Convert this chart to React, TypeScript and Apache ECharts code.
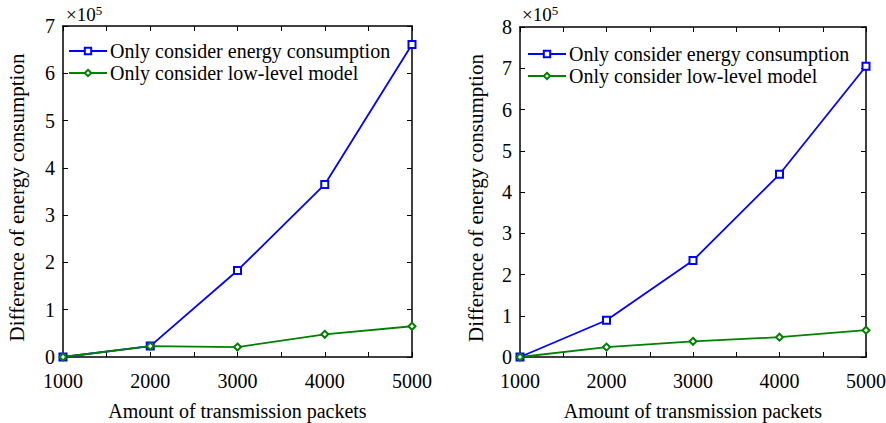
import React, { useEffect, useRef } from "react";
import * as echarts from "echarts";

const packets = [1000, 2000, 3000, 4000, 5000];
const leftEnergy = [0, 0.23, 1.83, 3.65, 6.61];
const leftLowLevel = [0, 0.23, 0.21, 0.48, 0.65];
const rightEnergy = [0, 0.89, 2.34, 4.43, 7.05];
const rightLowLevel = [0, 0.24, 0.38, 0.48, 0.65];
const seriesNames = ["Only consider energy consumption", "Only consider low-level model"];
const xTitle = "Amount of transmission packets";
const yTitle = "Difference of energy consumption";
const leftMax = 7;
const rightMax = 8;

const FONT = "Liberation Serif, Times New Roman, serif";
const BLUE = "#0000ff";
const GREEN = "#008000";

const pairs = (vals: number[]) => packets.map((p, i) => [p, vals[i]]);

export default function App() {
  const ref = useRef<HTMLDivElement>(null);
  useEffect(() => {
    if (!ref.current) return;
    const chart = echarts.init(ref.current, undefined, { renderer: "svg" });
    const grids = [
      { left: 63, top: 26, width: 349, height: 331, outerBoundsMode: "none", containLabel: false },
      { left: 520, top: 27, width: 346, height: 330, outerBoundsMode: "none", containLabel: false },
    ];
    const axLine = { show: true, lineStyle: { color: "#000", width: 1.5 } };
    const tick = { show: true, inside: true, length: 5, lineStyle: { color: "#000", width: 1 } };
    const minor = { show: true, splitNumber: 2, length: 5, lineStyle: { color: "#000", width: 1 } };
    const mkX = (g: number, pos: "bottom" | "top") => ({
      type: "value",
      gridIndex: g,
      position: pos,
      min: 1000,
      max: 5000,
      interval: 1000,
      axisLine: { ...axLine, onZero: false },
      axisTick: tick,
      minorTick: minor,
      splitLine: { show: false },
      axisLabel:
        pos === "bottom"
          ? { show: true, margin: 14, fontFamily: FONT, fontSize: 20, color: "#000", formatter: (v: number) => String(v) }
          : { show: false },
      name: pos === "bottom" ? xTitle : "",
      nameLocation: "middle",
      nameGap: 44,
      nameTextStyle: { fontFamily: FONT, fontSize: 20, lineHeight: 20, color: "#000" },
    });
    const mkY = (g: number, pos: "left" | "right", max: number, gap: number) => ({
      type: "value",
      gridIndex: g,
      position: pos,
      min: 0,
      max,
      interval: 1,
      axisLine: { ...axLine, onZero: false },
      axisTick: tick,
      splitLine: { show: false },
      axisLabel:
        pos === "left"
          ? { show: true, margin: 8, fontFamily: FONT, fontSize: 20, color: "#000" }
          : { show: false },
      name: pos === "left" ? yTitle : "",
      nameLocation: "middle",
      nameGap: gap,
      nameTextStyle: { fontFamily: FONT, fontSize: 21, color: "#000", padding: [0, 12, 0, 0] },
    });
    const mkSeries = (name: string, vals: number[], idx: number, color: string, symbol: string) => ({
      type: "line",
      name,
      xAxisIndex: idx,
      yAxisIndex: idx,
      data: pairs(vals),
      symbol,
      symbolSize: 7,
      lineStyle: { color, width: 1.8 },
      itemStyle: { color, borderWidth: 1.5 },
    });
    const legendBase = {
      orient: "vertical",
      itemWidth: 38,
      itemHeight: 8,
      itemGap: 2,
      padding: 0,
      textStyle: { fontFamily: FONT, fontSize: 20, color: "#000", padding: [0, 0, 0, -2] },
      data: seriesNames,
      selectedMode: false,
    };
    const mult = (left: number) => ({
      type: "text",
      left,
      top: 4,
      style: {
        text: "×10{s|5}",
        fontFamily: FONT,
        fontSize: 19,
        fill: "#000",
        rich: { s: { fontFamily: FONT, fontSize: 13, verticalAlign: "top", padding: [0, 0, 8, 0] } },
      },
    });
    chart.setOption({
      animation: false,
      backgroundColor: "#fff",
      textStyle: { fontFamily: FONT },
      grid: grids,
      xAxis: [mkX(0, "bottom"), mkX(0, "top"), mkX(1, "bottom"), mkX(1, "top")],
      yAxis: [mkY(0, "left", leftMax, 36), mkY(0, "right", leftMax, 0), mkY(1, "left", rightMax, 34), mkY(1, "right", rightMax, 0)],
      legend: [
        { ...legendBase, left: 68, top: 41 },
        { ...legendBase, left: 527, top: 44 },
      ],
      series: [
        mkSeries(seriesNames[0], leftEnergy, 0, BLUE, "emptyRect"),
        mkSeries(seriesNames[1], leftLowLevel, 0, GREEN, "emptyDiamond"),
        mkSeries(seriesNames[0], rightEnergy, 2, BLUE, "emptyRect"),
        mkSeries(seriesNames[1], rightLowLevel, 2, GREEN, "emptyDiamond"),
      ],
      graphic: [mult(66), mult(522)],
    });
    return () => chart.dispose();
  }, []);
  return (
    <div style={{ width: 886, height: 423, position: "absolute", left: 0, top: 0, overflow: "hidden" }}>
      <div ref={ref} style={{ width: 886, height: 423 }} />
    </div>
  );
}
